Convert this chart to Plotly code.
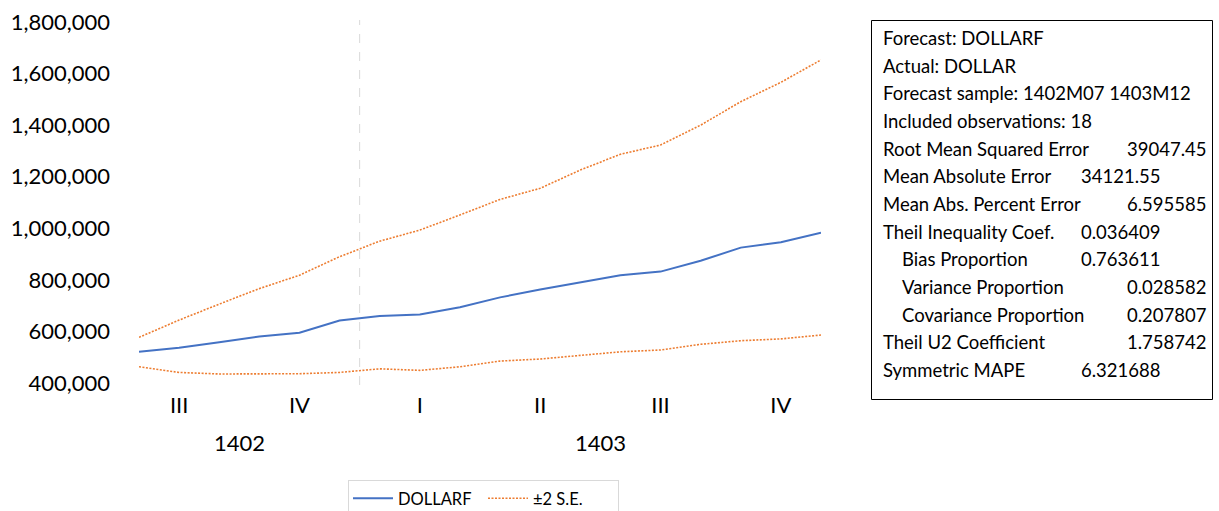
import plotly.graph_objects as go

W, H = 1219, 511

# ---- data ----
months = ["1402M07", "1402M08", "1402M09", "1402M10", "1402M11", "1402M12",
          "1403M01", "1403M02", "1403M03", "1403M04", "1403M05", "1403M06",
          "1403M07", "1403M08", "1403M09", "1403M10", "1403M11", "1403M12"]
dollarf = [521000, 537000, 558000, 580000, 595000, 642000, 660000, 666000, 694000,
           732000, 763000, 789000, 818000, 832000, 874000, 925000, 946000, 983000]
upper_se = [577000, 644000, 706000, 766000, 818000, 890000, 950000, 993000, 1052000,
            1112000, 1155000, 1226000, 1287000, 1323000, 1400000, 1491000, 1566000, 1653000]
lower_se = [463000, 441000, 435000, 435000, 436000, 441000, 455000, 449000, 463000,
            485000, 493000, 507000, 521000, 528000, 550000, 564000, 571000, 586000]

quarter_labels = ["III", "IV", "I", "II", "III", "IV"]
quarter_months = ["1402M08", "1402M11", "1403M02", "1403M05", "1403M08", "1403M11"]
years = ["1402", "1403"]

y_ticks = [400000, 600000, 800000, 1000000, 1200000, 1400000, 1600000, 1800000]

stat_labels = ["Forecast: DOLLARF", "Actual: DOLLAR", "Forecast sample: 1402M07 1403M12",
               "Included observations: 18", "Root Mean Squared Error", "Mean Absolute Error",
               "Mean Abs. Percent Error", "Theil Inequality Coef.", "Bias Proportion",
               "Variance Proportion", "Covariance Proportion", "Theil U2 Coefficient",
               "Symmetric MAPE"]
stat_values = ["", "", "", "", "39047.45", "34121.55", "6.595585", "0.036409",
               "0.763611", "0.028582", "0.207807", "1.758742", "6.321688"]
stat_indent = [0, 0, 0, 0, 0, 0, 0, 0, 1, 1, 1, 0, 0]
stat_col = [0, 0, 0, 0, 1, 0, 1, 0, 0, 1, 1, 1, 0]

# ---- layout helpers ----
x_idx = list(range(len(months)))
pos = {m: i for i, m in enumerate(months)}

def px(x):
    return x / W

def py(y):
    return 1 - y / H

FONT = "Lato, 'Open Sans', sans-serif"
BLUE = "#4472C4"
ORANGE = "#ED7D31"
DOT = "2px,1.5px"

fig = go.Figure()
fig.add_trace(go.Scatter(x=x_idx, y=dollarf, mode="lines", name="DOLLARF",
                         line=dict(color=BLUE, width=2)))
fig.add_trace(go.Scatter(x=x_idx, y=upper_se, mode="lines", name="±2 S.E.",
                         legendgroup="se",
                         line=dict(color=ORANGE, width=1.6, dash=DOT)))
fig.add_trace(go.Scatter(x=x_idx, y=lower_se, mode="lines", name="±2 S.E.",
                         legendgroup="se", showlegend=False,
                         line=dict(color=ORANGE, width=1.6, dash=DOT)))

# vertical separator between years
n1402 = sum(1 for m in months if m.startswith("1402"))
fig.add_shape(type="line", xref="x", yref="paper",
              x0=n1402 - 0.5, x1=n1402 - 0.5, y0=py(385), y1=py(20),
              line=dict(color="#d9d9d9", width=1, dash="dash"))

# year labels
for yr in years:
    idx = [i for i, m in enumerate(months) if m.startswith(yr)]
    fig.add_annotation(x=(idx[0] + idx[-1]) / 2, y=py(442), xref="x", yref="paper",
                       text=yr, showarrow=False, font=dict(size=22, color="#000", family=FONT),
                       xanchor="center", yanchor="middle")

# stats box
fig.add_shape(type="rect", xref="paper", yref="paper",
              x0=px(871.5), x1=px(1212.5), y0=py(399.5), y1=py(20.5),
              line=dict(color="#000", width=1), fillcolor="white")
for i, (lab, val) in enumerate(zip(stat_labels, stat_values)):
    yc = 38 + i * 27.65
    fig.add_annotation(x=px(881 + 19 * stat_indent[i]), y=py(yc), xref="paper", yref="paper",
                       text=lab, showarrow=False, xanchor="left", yanchor="middle",
                       font=dict(size=18.5, color="#000", family=FONT))
    if val:
        fig.add_annotation(x=px(1079 if stat_col[i] == 0 else 1125), y=py(yc),
                           xref="paper", yref="paper", text=val, showarrow=False,
                           xanchor="left", yanchor="middle",
                           font=dict(size=18.5, color="#000", family=FONT))

fig.update_layout(
    width=W, height=H,
    margin=dict(l=0, r=0, t=0, b=0, pad=0, autoexpand=False),
    paper_bgcolor="white", plot_bgcolor="white",
    font=dict(family=FONT, color="#000"),
    showlegend=True,
    legend=dict(orientation="h", x=px(348), y=py(480), xanchor="left", yanchor="top",
                bgcolor="white", bordercolor="#d9d9d9", borderwidth=1,
                font=dict(size=16.5, color="#000", family=FONT),
                itemwidth=40, tracegroupgap=0, entrywidth=80),
    xaxis=dict(domain=[px(139), px(821)], range=[0, len(months) - 1],
               tickmode="array", tickvals=[pos[m] for m in quarter_months],
               ticktext=quarter_labels, showgrid=False, zeroline=False,
               showline=False, ticks="", tickfont=dict(size=22, color="#000"),
               ticklabelstandoff=7),
    yaxis=dict(domain=[py(383), py(22)], range=[400000, 1800000],
               tickmode="array", tickvals=y_ticks,
               ticktext=[f"{v:,}" for v in y_ticks],
               showgrid=False, zeroline=False, showline=False, ticks="",
               tickfont=dict(size=22, color="#000"), ticklabelstandoff=28),
)

fig.write_html("out.html", config={"displayModeBar": False},
               post_script="document.body.style.margin='0';document.body.style.overflow='hidden';")
